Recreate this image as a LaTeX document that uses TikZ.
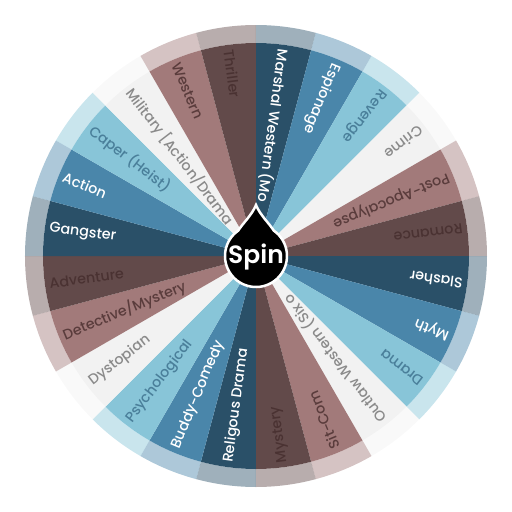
\documentclass[tikz,border=0pt]{standalone}
\usepackage{fontspec}
\setmainfont{Poppins}
\IfFontExistsTF{Poppins Medium}{\newfontfamily\labfont{Poppins Medium}}{\newfontfamily\labfont{Poppins}[FakeBold=0.6]}
\IfFontExistsTF{Poppins SemiBold}{\newfontfamily\spinfont{Poppins SemiBold}}{\newfontfamily\spinfont{Poppins}[FakeBold=1.5]}
\definecolor{seg0}{HTML}{2A5068}
\definecolor{seg1}{HTML}{4A86AA}
\definecolor{seg2}{HTML}{88C5D8}
\definecolor{seg3}{HTML}{F2F2F2}
\definecolor{seg4}{HTML}{A27A7A}
\definecolor{seg5}{HTML}{624A4A}
\definecolor{txt0}{HTML}{FFFFFF}
\definecolor{txt1}{HTML}{FFFFFF}
\definecolor{txt2}{HTML}{4A7F9A}
\definecolor{txt3}{HTML}{8A8A8A}
\definecolor{txt4}{HTML}{5A3C3C}
\definecolor{txt5}{HTML}{4A3232}
\tikzset{
  lab/.style={font=\labfont\fontsize{14.3}{14.3}\selectfont, inner sep=0pt, anchor=west},
  spinbtn/.style={fill=black, draw=white, line width=2.5pt},
}
\begin{document}
\begin{tikzpicture}[x=1pt,y=1pt]
\useasboundingbox (-256,-256) rectangle (256,256);
\coordinate (c) at (0,0);
\foreach \lab [count=\i from 0] in {{Marshal Western (Mo},{Espionage},{Revenge},{Crime},{Post-Apocalypse},{Romance},{Slasher},{Myth},{Drama},{Outlaw Western (Six o},{Sit-Com},{Mystery},{Religous Drama},{Buddy-Comedy},{Psychological},{Dystopian},{Detective/Mystery},{Adventure},{Gangster},{Action},{Caper (Heist)},{Military [Action/Drama},{Western},{Thriller}}{
  \pgfmathtruncatemacro\k{mod(\i,6)}
  \pgfmathsetmacro\a{90-15*\i}
  \pgfmathsetmacro\b{75-15*\i}
  \pgfmathsetmacro\m{82.5-15*\i}
  \pgfmathsetmacro\r{\m+180}
  \fill[seg\k] (c) -- (\a:213) arc[start angle=\a, end angle=\b, radius=213] -- cycle;
  \fill[seg\k, opacity=0.45] (\a:213) arc[start angle=\a, end angle=\b, radius=213] -- (\b:231) arc[start angle=\b, end angle=\a, radius=231] -- cycle;
  \node[lab, text=txt\k, rotate=\r] (lab\i) at (\m:208.5) {\lab};
}
\fill[black] (0,51) .. controls (-4,41) and (-13,33) .. (125:31) arc[start angle=125, end angle=415, radius=31] .. controls (13,33) and (4,41) .. (0,51) -- cycle;
\draw[spinbtn] (0,51) .. controls (-4,41) and (-13,33) .. (125:31) arc[start angle=125, end angle=415, radius=31] .. controls (13,33) and (4,41) .. (0,51) -- cycle;
\node[text=white, font=\spinfont\fontsize{25}{25}\selectfont] (spin) at (0,-1) {Spin};
\end{tikzpicture}
\end{document}
